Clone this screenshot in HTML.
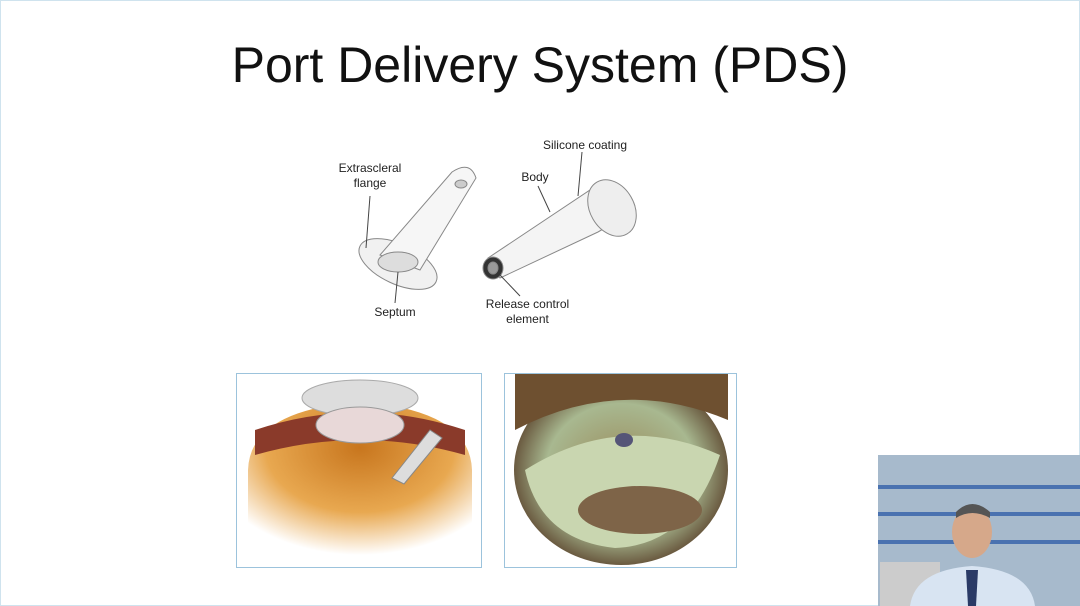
<!DOCTYPE html>
<html><head><meta charset="utf-8"><style>
html,body{margin:0;padding:0;background:#fff;}
body{width:1080px;height:606px;position:relative;overflow:hidden;font-family:"Liberation Sans",sans-serif;}
.frame{position:absolute;left:0;top:0;width:1078px;height:604px;border:1px solid #cfe3ee;}
.title{position:absolute;left:0;width:1080px;top:36px;text-align:center;font-size:50px;color:#111;}
.lbl{position:absolute;font-size:12px;color:#222;text-align:center;line-height:15px;}
</style></head><body>
<div class="frame"></div>
<div class="title">Port Delivery System (PDS)</div>
<div class="lbl" style="left:330px;top:161px;width:80px">Extrascleral<br>flange</div>
<div class="lbl" style="left:360px;top:305px;width:70px">Septum</div>
<div class="lbl" style="left:505px;top:170px;width:60px">Body</div>
<div class="lbl" style="left:530px;top:138px;width:110px">Silicone coating</div>
<div class="lbl" style="left:470px;top:297px;width:115px">Release control<br>element</div>
<svg width="1080" height="606" style="position:absolute;left:0;top:0">
 <defs>
  <radialGradient id="g1" cx="0.5" cy="0.3" r="0.7"><stop offset="0" stop-color="#c8761e"/><stop offset="0.6" stop-color="#e8a850"/><stop offset="1" stop-color="#fff"/></radialGradient>
  <radialGradient id="g2" cx="0.5" cy="0.5" r="0.5"><stop offset="0" stop-color="#9a8a5a"/><stop offset="0.7" stop-color="#a8b890"/><stop offset="1" stop-color="#6a5a40"/></radialGradient>
  <clipPath id="c2"><rect x="505" y="374" width="231" height="193"/></clipPath>
 </defs>
 <g stroke="#888" fill="#f1f1f1" stroke-width="1">
  <ellipse cx="398" cy="264" rx="42" ry="20" transform="rotate(25 398 264)"/>
  <path d="M380 255 L452 172 Q470 160 476 178 L420 270 Z" fill="#f6f6f6"/>
  <ellipse cx="398" cy="262" rx="20" ry="10" fill="#ddd"/>
  <ellipse cx="461" cy="184" rx="6" ry="4" fill="#ccc"/>
 </g>
 <g stroke="#888" fill="#f4f4f4" stroke-width="1">
  <path d="M488 258 L590 190 Q612 185 615 205 Q612 225 598 232 L500 278 Z"/>
  <ellipse cx="612" cy="208" rx="22" ry="30" transform="rotate(-30 612 208)" fill="#eee"/>
  <ellipse cx="493" cy="268" rx="10" ry="11" fill="#333"/>
  <ellipse cx="493" cy="268" rx="5" ry="6" fill="#999"/>
 </g>
 <g stroke="#444" stroke-width="1">
  <line x1="370" y1="196" x2="366" y2="248"/>
  <line x1="395" y1="303" x2="398" y2="272"/>
  <line x1="538" y1="186" x2="550" y2="212"/>
  <line x1="582" y1="152" x2="578" y2="196"/>
  <line x1="520" y1="296" x2="500" y2="275"/>
 </g>
 <rect x="236.5" y="373.5" width="245" height="194" fill="#fff" stroke="#9cc3dc"/>
 <path d="M248 470 Q250 410 360 402 Q470 410 472 470 L472 555 L248 555 Z" fill="url(#g1)"/>
 <path d="M255 430 Q360 395 465 430 L465 455 Q360 425 255 455 Z" fill="#8a3a2a"/>
 <ellipse cx="360" cy="398" rx="58" ry="18" fill="#ddd" stroke="#aaa"/>
 <ellipse cx="360" cy="425" rx="44" ry="18" fill="#e8d8d8" stroke="#999"/>
 <path d="M392 478 L430 430 L442 438 L404 484 Z" fill="#ddd" stroke="#888"/>
 <rect x="504.5" y="373.5" width="232" height="194" fill="#fff" stroke="#9cc3dc"/>
 <g clip-path="url(#c2)">
  <ellipse cx="621" cy="470" rx="107" ry="95" fill="url(#g2)"/>
  <path d="M525 470 Q620 410 720 455 Q690 545 615 548 Q540 540 525 470 Z" fill="#c9d6b0"/>
  <ellipse cx="640" cy="510" rx="62" ry="24" fill="#7e6448"/>
  <ellipse cx="624" cy="440" rx="9" ry="7" fill="#557"/>
  <path d="M515 430 Q620 375 728 420 L728 374 L515 374 Z" fill="#6e5030"/>
 </g>
 <rect x="878" y="455" width="202" height="151" fill="#a7bacc"/>
 <rect x="878" y="485" width="202" height="4" fill="#4a72b0"/>
 <rect x="878" y="512" width="202" height="4" fill="#4a72b0"/>
 <rect x="878" y="540" width="202" height="4" fill="#4a72b0"/>
 <rect x="880" y="562" width="60" height="44" fill="#ccc"/>
 <ellipse cx="972" cy="532" rx="20" ry="26" fill="#d6a88a"/>
 <path d="M956 512 Q972 496 990 512 L990 518 Q972 508 956 518 Z" fill="#555"/>
 <path d="M910 606 Q915 570 972 566 Q1030 570 1035 606 Z" fill="#d8e4f2"/>
 <path d="M966 570 L978 570 L976 606 L968 606 Z" fill="#2a3a66"/>
</svg>
</body></html>
